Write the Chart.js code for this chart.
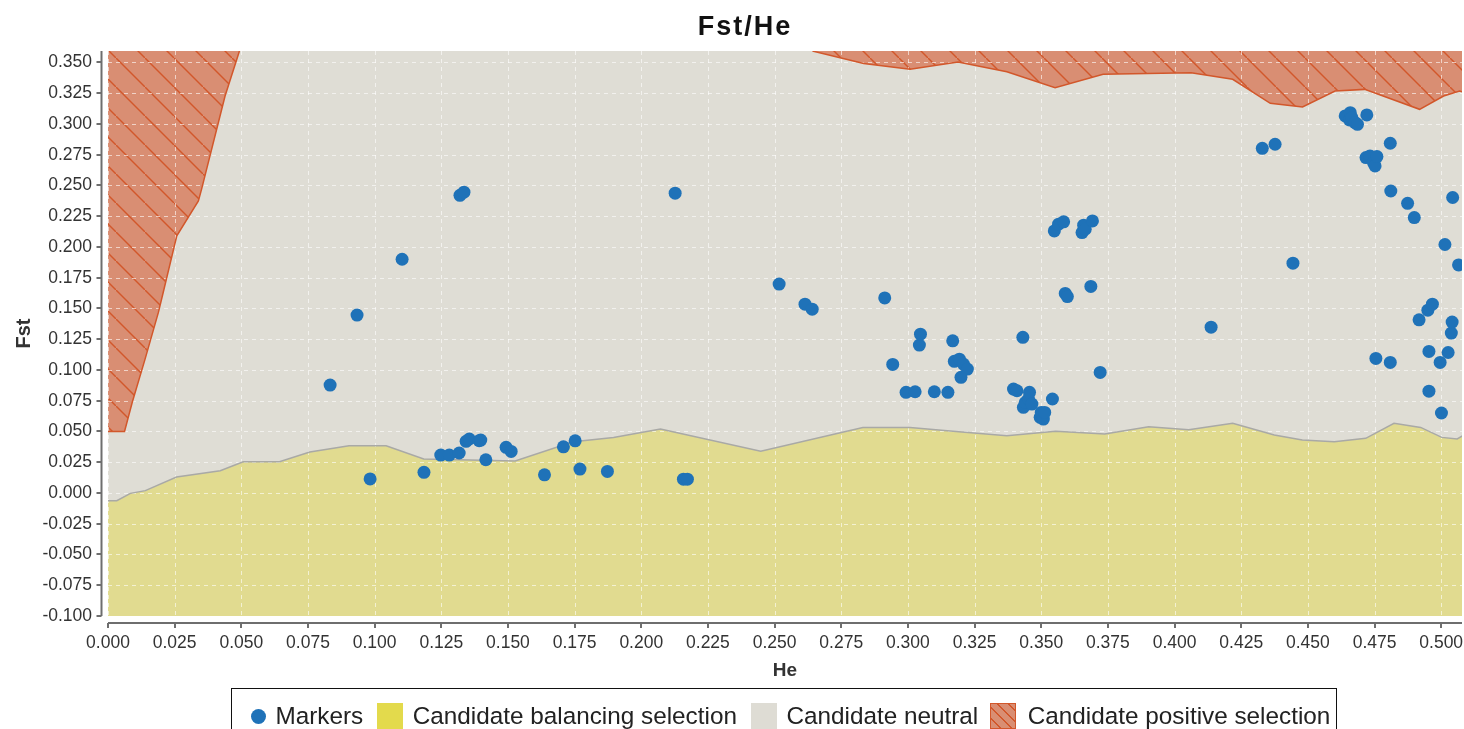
<!DOCTYPE html>
<html lang="en">
<head>
    <meta charset="UTF-8">
    <title>Fst/He</title>
    <script src="https://cdn.jsdelivr.net/npm/chart.js"></script>
    <style>
        body { margin: 0; background: #fff; font-family: "Liberation Sans", Arial, sans-serif; }
        .wrap { position: relative; width: 1464px; height: 729px; overflow: hidden; }
        .title { position: absolute; left: 0; width: 1490px; top: 11px; text-align: center;
                 font-weight: bold; font-size: 27px; letter-spacing: 2px; color: #111; }
        .legend { position: absolute; left: 231px; top: 688px; width: 1106px; height: 60px;
                  border: 1.5px solid #111; display: flex; justify-content: flex-start; padding: 14px 0 0 12px;
                  box-sizing: border-box; font-size: 24.3px; color: #222; white-space: nowrap; }
        .item { display: flex; align-items: center; height: 26px; margin: 0 7px; flex: none; }
        .item span { margin-left: 9.5px; }
        .item.last span { margin-left: 11.5px; }
        .item.last { margin-left: 5px; }
        .dot { width: 15px; height: 15px; border-radius: 50%; background: #1f72b8; }
        .sq { width: 26px; height: 26px; box-sizing: border-box; }
        .bal { background: #e3da4c; }
        .neu { background: #dedcd4; }
        .pos { border: 1px solid #d2572b;
               background: repeating-linear-gradient(45deg, #d98e73 0 6px, #d2572b 6px 7.5px); }
    </style>
</head>
<body>
<div class="wrap">
    <canvas id="chart"></canvas>
    <div class="title">Fst/He</div>
    <div class="legend">
        <div class="item"><div class="dot"></div><span>Markers</span></div>
        <div class="item"><div class="sq bal"></div><span>Candidate balancing selection</span></div>
        <div class="item"><div class="sq neu"></div><span>Candidate neutral</span></div>
        <div class="item last"><div class="sq pos"></div><span>Candidate positive selection</span></div>
    </div>
</div>
<script>
// marker values
const markerHe = [0.0833, 0.0934, 0.0983, 0.1103, 0.1185, 0.1248, 0.1280, 0.1317, 0.1320, 0.1335,
    0.1343, 0.1355, 0.1392, 0.1398, 0.1417, 0.1493, 0.1512, 0.1637, 0.1708, 0.1752,
    0.1770, 0.1873, 0.2127, 0.2158, 0.2173, 0.2517, 0.2614, 0.2641, 0.2913, 0.2943,
    0.2993, 0.3027, 0.3043, 0.3047, 0.3099, 0.3150, 0.3168, 0.3174, 0.3193, 0.3208,
    0.3223, 0.3199, 0.3396, 0.3409, 0.3431, 0.3433, 0.3440, 0.3452, 0.3456, 0.3465,
    0.3496, 0.3500, 0.3508, 0.3513, 0.3542, 0.3549, 0.3565, 0.3584, 0.3590, 0.3598,
    0.3653, 0.3659, 0.3665, 0.3686, 0.3692, 0.3721, 0.4137, 0.4329, 0.4377, 0.4444,
    0.4640, 0.4656, 0.4659, 0.4665, 0.4677, 0.4686, 0.4721, 0.4718, 0.4733, 0.4746,
    0.4752, 0.4759, 0.4755, 0.4809, 0.4809, 0.4811, 0.4874, 0.4899, 0.4917, 0.4950,
    0.4954, 0.4954, 0.4967, 0.4996, 0.5001, 0.5014, 0.5026, 0.5038, 0.5041, 0.5043,
    0.5065];
const markerFst = [0.0877, 0.1446, 0.0114, 0.1900, 0.0168, 0.0308, 0.0308, 0.0325, 0.2420, 0.2445,
    0.0420, 0.0439, 0.0425, 0.0430, 0.0270, 0.0371, 0.0338, 0.0148, 0.0375, 0.0424,
    0.0194, 0.0175, 0.2437, 0.0112, 0.0112, 0.1698, 0.1535, 0.1494, 0.1586, 0.1045,
    0.0818, 0.0823, 0.1202, 0.1291, 0.0823, 0.0818, 0.1237, 0.1070, 0.1088, 0.1048,
    0.1007, 0.0940, 0.0845, 0.0831, 0.1265, 0.0696, 0.0735, 0.0764, 0.0818, 0.0723,
    0.0615, 0.0655, 0.0601, 0.0655, 0.0764, 0.2130, 0.2185, 0.2204, 0.1622, 0.1597,
    0.2117, 0.2177, 0.2144, 0.1679, 0.2212, 0.0980, 0.1348, 0.2802, 0.2835, 0.1868,
    0.3065, 0.3032, 0.3092, 0.3051, 0.3011, 0.2997, 0.3073, 0.2727, 0.2740, 0.2686,
    0.2659, 0.2735, 0.1094, 0.2843, 0.1061, 0.2455, 0.2355, 0.2239, 0.1408, 0.1486,
    0.0828, 0.1151, 0.1535, 0.1061, 0.0650, 0.2020, 0.1142, 0.1300, 0.1389, 0.2402,
    0.1854];

// upper edge of the balancing-selection zone
const balancingHe = [0, 0.0033, 0.0084, 0.0140, 0.0257, 0.0421, 0.0507, 0.0643, 0.0757, 0.0904,
    0.1043, 0.1184, 0.1527, 0.1745, 0.1896, 0.2072, 0.2448, 0.2831, 0.3008, 0.3191,
    0.3371, 0.3554, 0.3738, 0.3903, 0.4053, 0.4218, 0.4374, 0.4479, 0.4599, 0.4717,
    0.4823, 0.4923, 0.5002, 0.5060, 0.5085];
const balancingFst = [-0.0063, -0.0063, -0.0003, 0.0019, 0.0130, 0.0181, 0.0254, 0.0254, 0.0333, 0.0384,
    0.0384, 0.0276, 0.0260, 0.0417, 0.0452, 0.0520, 0.0339, 0.0533, 0.0533, 0.0498,
    0.0466, 0.0501, 0.0479, 0.0539, 0.0514, 0.0566, 0.0471, 0.0430, 0.0417, 0.0444,
    0.0566, 0.0533, 0.0452, 0.0439, 0.0470];

// lower edges of the positive-selection zones (left and right)
const posLeftHe = [0, 0.0062, 0.0091, 0.0139, 0.0189, 0.0207, 0.0258, 0.0339, 0.0351, 0.0439, 0.0493];
const posLeftFst = [0.0500, 0.0500, 0.0737, 0.1088, 0.1468, 0.1630, 0.2090, 0.2374, 0.2470, 0.3227, 0.3593];
const posRightHe = [0.2642, 0.2834, 0.3008, 0.3188, 0.3371, 0.3552, 0.3732, 0.4062, 0.4218, 0.4359,
    0.4480, 0.4602, 0.4713, 0.4919, 0.5009, 0.5069, 0.5086];
const posRightFst = [0.3593, 0.3492, 0.3444, 0.3503, 0.3425, 0.3295, 0.3403, 0.3417, 0.3363, 0.3168,
    0.3138, 0.3268, 0.3281, 0.3119, 0.3227, 0.3268, 0.3255];

const xMin = 0, xMax = 0.5078, xStep = 0.025;
const yMin = -0.1, yMax = 0.3593, yStep = 0.025;

function pts(xs, ys) {
    return xs.map((x, i) => ({ x: x, y: ys[i] }));
}

// hatch for positive selection: one "\" line per 29px tile
function hatch() {
    const s = 29;
    const c = document.createElement('canvas');
    c.width = s; c.height = s;
    const g = c.getContext('2d');
    g.fillStyle = '#d98e73';
    g.fillRect(0, 0, s, s);
    g.strokeStyle = '#d2572b';
    g.lineWidth = 1.4;
    g.beginPath();
    g.moveTo(0, 0); g.lineTo(s, s);
    g.stroke();
    return g.createPattern(c, 'repeat');
}

function onStep(v, step) {
    return Math.abs(v / step - Math.round(v / step)) < 1e-6;
}

const plotPlugin = {
    id: 'plotPlugin',
    beforeDraw(chart) {
        const { ctx, chartArea: a } = chart;
        ctx.save();
        ctx.fillStyle = '#dfddd5';
        ctx.fillRect(a.left, a.top, a.right - a.left, a.bottom - a.top);
        ctx.restore();
    },
    beforeDatasetsDraw(chart) {
        // dashed grid above the filled zones
        const { ctx, chartArea: a, scales } = chart;
        ctx.save();
        ctx.strokeStyle = 'rgba(255,255,255,0.6)';
        ctx.lineWidth = 1;
        ctx.setLineDash([4, 4]);
        ctx.beginPath();
        scales.x.ticks.forEach(t => {
            const px = Math.round(scales.x.getPixelForValue(t.value)) + 0.5;
            ctx.moveTo(px, a.top); ctx.lineTo(px, a.bottom);
        });
        scales.y.ticks.forEach(t => {
            const py = Math.round(scales.y.getPixelForValue(t.value)) + 0.5;
            ctx.moveTo(a.left, py); ctx.lineTo(a.right, py);
        });
        ctx.stroke();
        ctx.restore();
    },
    afterDraw(chart) {
        // axis lines set a little off the plot
        const { ctx, chartArea: a, scales } = chart;
        ctx.save();
        ctx.strokeStyle = '#6e6e6e';
        ctx.lineWidth = 2;
        ctx.beginPath();
        const ax = a.left - 6.5, ay = a.bottom + 7;
        ctx.moveTo(ax, a.top); ctx.lineTo(ax, a.bottom);
        ctx.moveTo(a.left, ay); ctx.lineTo(a.right, ay);
        scales.y.ticks.forEach(t => {
            const py = Math.round(scales.y.getPixelForValue(t.value));
            ctx.moveTo(ax, py); ctx.lineTo(ax - 5, py);
        });
        scales.x.ticks.forEach(t => {
            const px = Math.round(scales.x.getPixelForValue(t.value));
            ctx.moveTo(px, ay); ctx.lineTo(px, ay + 5);
        });
        ctx.stroke();
        ctx.restore();
    }
};

const pattern = hatch();

new Chart(document.getElementById('chart'), {
    type: 'scatter',
    data: {
        datasets: [
            {
                label: 'Markers',
                data: pts(markerHe, markerFst),
                backgroundColor: '#1f72b8',
                borderWidth: 0,
                pointRadius: 6.5,
                pointHoverRadius: 6.5
            },
            {
                type: 'line',
                label: 'Candidate positive selection',
                data: pts(posLeftHe, posLeftFst),
                borderColor: '#d2572b',
                borderWidth: 1.5,
                backgroundColor: pattern,
                fill: 'end',
                pointRadius: 0,
                tension: 0
            },
            {
                type: 'line',
                label: 'Candidate positive selection',
                data: pts(posRightHe, posRightFst),
                borderColor: '#d2572b',
                borderWidth: 1.5,
                backgroundColor: pattern,
                fill: 'end',
                pointRadius: 0,
                tension: 0
            },
            {
                type: 'line',
                label: 'Candidate balancing selection',
                data: pts(balancingHe, balancingFst),
                borderColor: '#a9a9a6',
                borderWidth: 1.5,
                backgroundColor: 'rgba(228,218,76,0.5)',
                fill: 'start',
                pointRadius: 0,
                tension: 0
            }
        ]
    },
    options: {
        responsive: true,
        maintainAspectRatio: false,
        animation: false,
        layout: { autoPadding: false, padding: { top: 51, right: 2, left: 0, bottom: 0 } },
        plugins: {
            legend: { display: false },
            tooltip: { enabled: false },
            filler: { drawTime: 'beforeDatasetsDraw' }
        },
        scales: {
            x: {
                type: 'linear',
                min: xMin, max: xMax,
                grid: { display: false, drawTicks: false },
                border: { display: false },
                afterBuildTicks: s => { s.ticks = s.ticks.filter(t => onStep(t.value, xStep)); },
                afterFit: s => { s.height = 113; s.paddingLeft = 0; s.paddingRight = 0; },
                ticks: {
                    stepSize: xStep,
                    includeBounds: false,
                    padding: 17,
                    color: '#333',
                    font: { family: 'Liberation Sans', size: 17.5 },
                    callback: v => v.toFixed(3),
                    maxRotation: 0,
                    autoSkip: false
                },
                title: {
                    display: true, text: 'He', color: '#333',
                    font: { family: 'Liberation Sans', size: 19, weight: 'bold' },
                    padding: { bottom: 47 }
                }
            },
            y: {
                type: 'linear',
                min: yMin, max: yMax,
                grid: { display: false, drawTicks: false },
                border: { display: false },
                afterBuildTicks: s => { s.ticks = s.ticks.filter(t => onStep(t.value, yStep)); },
                afterFit: s => { s.width = 108; s.paddingTop = 0; s.paddingBottom = 0; },
                ticks: {
                    stepSize: yStep,
                    includeBounds: false,
                    padding: 16,
                    color: '#333',
                    font: { family: 'Liberation Sans', size: 17.5 },
                    callback: v => v.toFixed(3),
                    autoSkip: false
                },
                title: {
                    display: true, text: 'Fst', color: '#333',
                    font: { family: 'Liberation Sans', size: 20, weight: 'bold' },
                    padding: { top: 12 }
                }
            }
        }
    },
    plugins: [plotPlugin]
});
</script>
</body>
</html>
